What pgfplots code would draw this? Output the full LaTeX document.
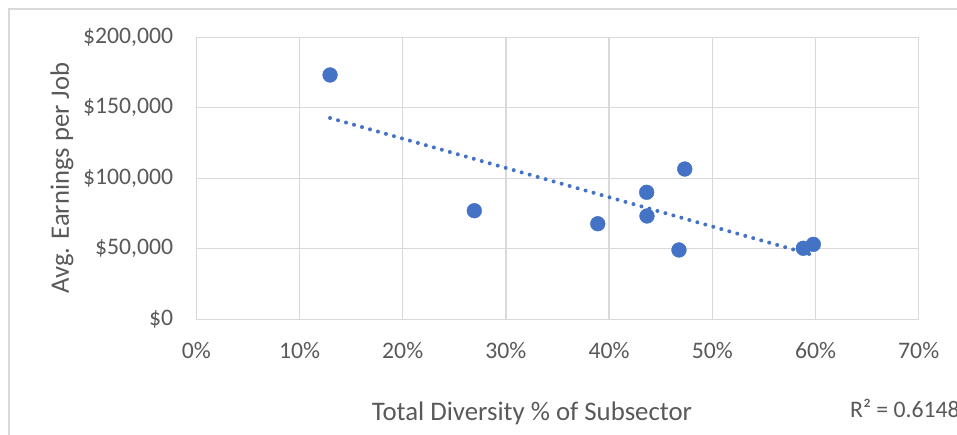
\documentclass[border=0pt]{standalone}
\usepackage{pgfplots}
\pgfplotsset{compat=1.18}
\usepackage{fontspec}
\setmainfont{Carlito}
\definecolor{txt}{HTML}{595959}
\definecolor{grd}{HTML}{D9D9D9}
\definecolor{pt}{HTML}{4472C4}
\begin{document}
\begin{tikzpicture}[x=1pt,y=1pt]
\useasboundingbox (0,0) rectangle (957,434);
\draw[grd, line width=1.3pt] (9,-5) -- (9,425) -- (965,425);
\begin{axis}[
  at={(196.3pt,114.8pt)}, anchor=south west,
  scale only axis, width=722.4pt, height=282pt,
  xmin=0, xmax=70, ymin=0, ymax=200000,
  xtick={0,10,20,30,40,50,60,70},
  xticklabels={0\%,10\%,20\%,30\%,40\%,50\%,60\%,70\%},
  ytick={0,50000,100000,150000,200000},
  yticklabels={{\$0},{\$50,000},{\$100,000},{\$150,000},{\$200,000}},
  scaled y ticks=false,
  grid=major,
  major grid style={grd, line width=1.35pt},
  axis line style={grd, line width=1.35pt},
  major tick length=0pt,
  tick label style={font=\fontsize{23.7}{28}\selectfont, text=txt},
  xticklabel style={anchor=north, inner sep=0pt, yshift=-22.8pt},
  yticklabel style={anchor=east, inner sep=0pt, xshift=-23pt},
]
\addplot[pt, line width=4pt, line cap=round, dash pattern=on 0pt off 8.3pt]
  coordinates {(12.96,142700) (59.79,45400)};
\addplot[only marks, mark=*, mark size=7.4pt, mark options={fill=pt, draw=pt}]
  coordinates {
    (12.96,173200)
    (26.94,76950)
    (38.90,67700)
    (43.64,90000)
    (43.67,73200)
    (47.33,106500)
    (46.77,49100)
    (58.82,50300)
    (59.79,53100)
  };
\end{axis}
\node[text=txt, font=\fontsize{26.8}{31}\selectfont] at (532,21) {Total Diversity \% of Subsector};
\node[text=txt, font=\fontsize{26.6}{31}\selectfont, rotate=90] at (62,256) {Avg. Earnings per Job};
\node[text=txt, font=\fontsize{23.7}{28}\selectfont, anchor=west, inner sep=0pt] at (850,26) {R² = 0.6148};
\end{tikzpicture}
\end{document}
